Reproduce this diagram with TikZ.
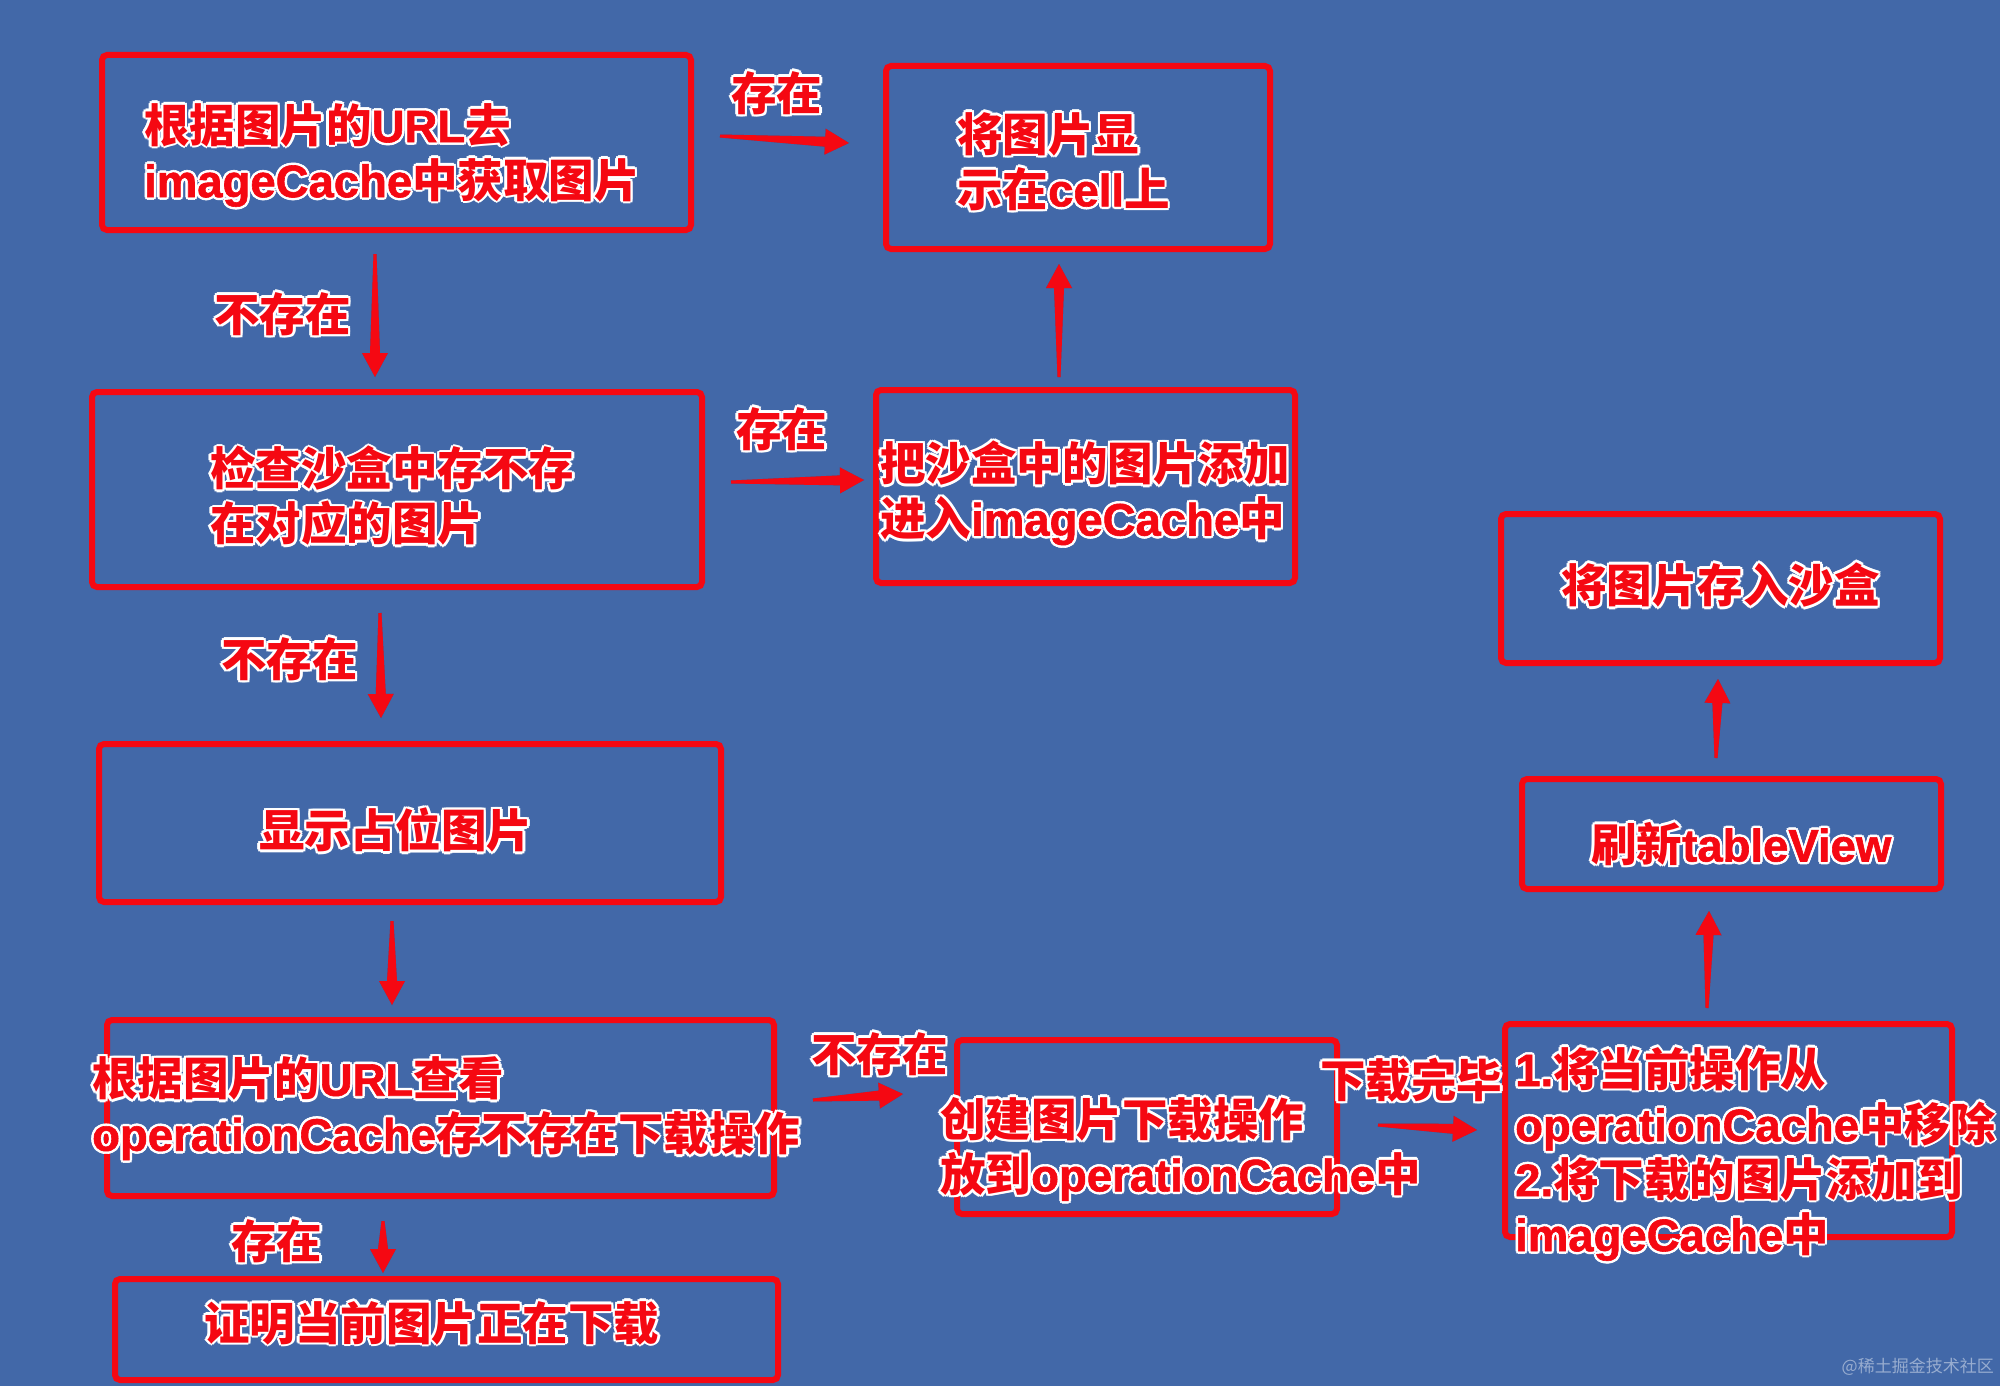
\documentclass[tikz,border=0pt]{standalone}
\usepackage{fontspec}
\usetikzlibrary{calc}
\newfontfamily\cjk{Noto Sans CJK SC}
\newfontfamily\latb{Liberation Sans Bold}[FakeBold=1.3]
\definecolor{bgblue}{RGB}{66,104,168}
\definecolor{tred}{RGB}{245,8,18}
\definecolor{otwhite}{RGB}{255,255,255}
\newcommand\lt[1]{{\latb\mdseries #1}}
\newcommand\oc[3]{\rlap{\kern#1\raisebox{#2}{\color{otwhite}#3}}}
\newcommand\ot[1]{\leavevmode\oc{2.5pt}{0pt}{#1}\oc{-2.5pt}{0pt}{#1}\oc{0pt}{2.5pt}{#1}\oc{0pt}{-2.5pt}{#1}\oc{1.8pt}{1.8pt}{#1}\oc{-1.8pt}{1.8pt}{#1}\oc{1.8pt}{-1.8pt}{#1}\oc{-1.8pt}{-1.8pt}{#1}{\color{tred}#1}}
\tikzset{
  box/.style={draw=tred, line width=6pt, rounded corners=5pt, inner sep=0pt},
  lbl/.style={anchor=west, align=left, inner sep=0pt, font=\cjk\bfseries\fontsize{45.5}{55}\selectfont},
}
% tapered arrow from #1 to #2
\newcommand\tarr[2]{%
  \path (#1) coordinate (ta) (#2) coordinate (tb);
  \coordinate (tm) at ($(tb)!24pt!(ta)$);
  \fill[black, opacity=0.18, shift={(2,2)}] ($(ta)!1.5pt!90:(tb)$) -- ($(tm)!5pt!90:(tb)$) -- ($(tm)!13pt!90:(tb)$) -- (tb) -- ($(tm)!13pt!-90:(tb)$) -- ($(tm)!5pt!-90:(tb)$) -- ($(ta)!1.5pt!-90:(tb)$) -- cycle;
  \fill[tred] ($(ta)!1.5pt!90:(tb)$) -- ($(tm)!5pt!90:(tb)$) -- ($(tm)!13pt!90:(tb)$) -- (tb) -- ($(tm)!13pt!-90:(tb)$) -- ($(tm)!5pt!-90:(tb)$) -- ($(ta)!1.5pt!-90:(tb)$) -- cycle;
}
\begin{document}
\begin{tikzpicture}[x=1pt,y=-1pt]
\fill[bgblue] (0,0) rectangle (2000,1386);
\useasboundingbox (0,0) rectangle (2000,1386);
% boxes
\node[box, minimum width=589, minimum height=175] (A) at (396.5,142.5) {};
\node[box, minimum width=384, minimum height=183] (B) at (1078,157.5) {};
\node[box, minimum width=610, minimum height=195] (C) at (397,489.5) {};
\node[box, minimum width=419, minimum height=193] (D) at (1085.5,486.5) {};
\node[box, minimum width=622, minimum height=158] (E) at (410,823) {};
\node[box, minimum width=667, minimum height=176] (F) at (440.5,1108) {};
\node[box, minimum width=663, minimum height=101] (G) at (446.5,1329.5) {};
\node[box, minimum width=380, minimum height=174] (H) at (1147,1127) {};
\node[box, minimum width=447, minimum height=213] (I) at (1728.5,1130.5) {};
\node[box, minimum width=419, minimum height=110] (J) at (1731.5,834) {};
\node[box, minimum width=439, minimum height=149] (K) at (1720.5,588.5) {};
% box texts
\node[lbl] (tA) at (144,155) {\ot{根据图片的\lt{URL}去}\\\ot{\lt{imageCache}中获取图片}};
\node[lbl] (tB) at (957,161.5) {\ot{将图片显}\\\ot{示在\lt{cell}上}};
\node[lbl] (tC) at (210,496) {\ot{检查沙盒中存不存}\\\ot{在对应的图片}};
\node[lbl] (tD) at (880,493) {\ot{把沙盒中的图片添加}\\\ot{进入\lt{imageCache}中}};
\node[lbl] (tE) at (259,830) {\ot{显示占位图片}};
\node[lbl] (tF) at (92,1108.5) {\ot{根据图片的\lt{URL}查看}\\\ot{\lt{operationCache}存不存在下载操作}};
\node[lbl] (tG) at (204,1323) {\ot{证明当前图片正在下载}};
\node[lbl] (tH) at (940,1149) {\ot{创建图片下载操作}\\\ot{放到\lt{operationCache}中}};
\node[lbl] (tI) at (1515,1154) {\ot{\lt{1.}将当前操作从}\\\ot{\lt{operationCache}中移除}\\\ot{\lt{2.}将下载的图片添加到}\\\ot{\lt{imageCache}中}};
\node[lbl] (tJ) at (1591,844) {\ot{刷新\lt{tableView}}};
\node[lbl] (tK) at (1561,585) {\ot{将图片存入沙盒}};
% arrows
\tarr{[shift={(26,-6.5)}]A.east}{[shift={(-34,-14.5)}]B.west}
\tarr{[shift={(-21.5,21)}]A.south}{[shift={(-22,-12)}]C.north}
\tarr{[shift={(26,-7.5)}]C.east}{[shift={(-9,-6.5)}]D.west}
\tarr{[shift={(-26.5,-10)}]D.north}{[shift={(-19,12)}]B.south}
\tarr{[shift={(-17,23)}]C.south}{[shift={(-29,-23)}]E.north}
\tarr{[shift={(-18,16)}]E.south}{[shift={(-48.5,-12)}]F.north}
\tarr{[shift={(-57.5,22)}]F.south}{[shift={(-63.5,-3)}]G.north}
\tarr{[shift={(36,-8)}]F.east}{[shift={(-51,-33)}]H.west}
\tarr{[shift={(38,-2)}]H.east}{[shift={(-25,-0.5)}]I.west}
\tarr{[shift={(-21.5,-13)}]I.north}{[shift={(-22.5,19)}]J.south}
\tarr{[shift={(-15.5,-18)}]J.north}{[shift={(-2.5,13)}]K.south}
% arrow labels
\node[lbl] (l1) at (731,93) {\ot{存在}};
\node[lbl] (l2) at (214,314) {\ot{不存在}};
\node[lbl] (l3) at (736,429) {\ot{存在}};
\node[lbl] (l4) at (221,659) {\ot{不存在}};
\node[lbl] (l5) at (231,1241) {\ot{存在}};
\node[lbl] (l6) at (811,1054) {\ot{不存在}};
\node[lbl] (l7) at (1320,1080) {\ot{下载完毕}};
% watermark
\node[anchor=east, inner sep=0pt, font=\cjk\fontsize{17}{20}\selectfont, text=white, opacity=0.45] (wm) at (1994,1367) {@稀土掘金技术社区};
\end{tikzpicture}
\end{document}
